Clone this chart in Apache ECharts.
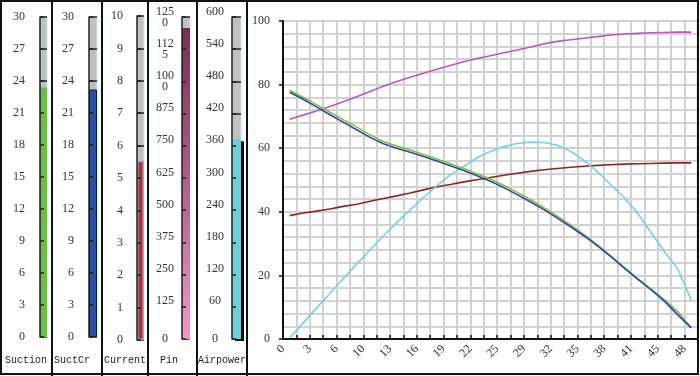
<!DOCTYPE html>
<html>
<head>
<meta charset="utf-8">
<script src="https://cdn.jsdelivr.net/npm/echarts@6/dist/echarts.min.js"></script>
<style>
  html, body { margin: 0; padding: 0; background: #fff; }
  #main { width: 700px; height: 376px; }
</style>
</head>
<body>
<div id="main"></div>
<script>
// gauges on the left
const gaugeTitles = ['Suction', 'SuctCr', 'Current', 'Pin', 'Airpower']
const gaugeValues = [23.4, 23.2, 5.53, 1207, 372]
const gaugeMax = [30, 30, 10, 1250, 600]
const gaugeStep = [3, 3, 1, 125, 60]

// line chart on the right
const xTickLabels = ['0', '3', '6', '10', '13', '16', '19', '22', '25', '29', '32', '35', '38', '41', '45', '48']
const pinkLine = [69.1, 70.4, 71.7, 73.1, 74.6, 76.2, 77.8, 79.5, 81.0, 82.3, 83.6, 84.8, 86.0, 87.2, 88.2, 89.1,
  90.0, 90.9, 91.8, 92.8, 93.6, 94.1, 94.6, 95.1, 95.6, 95.9, 96.1, 96.3, 96.4, 96.5, 96.5]
const redLine = [38.8, 39.6, 40.2, 40.9, 41.7, 42.4, 43.3, 44.2, 45.0, 45.9, 46.9, 47.9, 48.6, 49.4, 50.1, 50.8,
  51.5, 52.1, 52.7, 53.2, 53.6, 54.0, 54.3, 54.6, 54.8, 55.0, 55.1, 55.2, 55.3, 55.4, 55.4]
const cyanLine = [0.3, 5.0, 9.7, 14.3, 19.0, 23.5, 28.0, 32.4, 36.6, 40.6, 44.5, 48.2, 51.6, 54.3, 57.0, 59.0,
  60.5, 61.5, 61.9, 61.8, 60.9, 59.0, 56.1, 52.6, 48.5, 44.5, 39.5, 33.5, 27.5, 22.0, 12.3]
const greenLine = [78.2, 76.0, 73.7, 71.3, 69.0, 66.7, 64.2, 62.1, 60.7, 59.4, 58.0, 56.6, 55.1, 53.6, 52.0, 50.3,
  48.3, 46.1, 43.8, 41.3, 38.6, 35.8, 32.8, 29.6, 26.1, 22.5, 19.0, 15.7, 12.3, 8.6, 3.6]
const blueLine = [77.6, 75.4, 73.0, 70.5, 68.2, 65.8, 63.4, 61.4, 60.0, 58.7, 57.4, 56.0, 54.5, 53.0, 51.3, 49.6,
  47.6, 45.4, 43.1, 40.7, 38.0, 35.3, 32.4, 29.3, 25.9, 22.3, 18.8, 15.5, 11.9, 7.6, 3.5]

let myChart = echarts.init(document.getElementById('main'))

// tube geometry for each gauge
const tubeLeft = [40, 89, 137, 182, 232]
const tubeWidth = [7, 8, 7, 8, 9]
const tubeTop = [17, 17, 16, 17, 17]
const tubeBottom = [337, 337, 340, 339, 339]
const labelMargin = [15, 15, 14, 17, 17]
const titleX = [26, 72, 125, 169, 222]

const fillStyles = [
  {color: '#6cc04a'},
  {color: '#2f4fa3', borderColor: '#0b1a45', borderWidth: 1},
  {color: '#a23a26', borderColor: '#b99ad6', borderWidth: 1.5},
  {color: new echarts.graphic.LinearGradient(0, 0, 0, 1, [
    {offset: 0, color: '#7a2e55'},
    {offset: 0.5, color: '#b65c8e'},
    {offset: 1, color: '#f596c8'}
  ])},
  {color: '#6ccfda', shadowColor: '#000', shadowOffsetX: 3, shadowOffsetY: 2, shadowBlur: 0}
]

const numFont = '"Liberation Serif", "DejaVu Serif", serif'

let grids = []
let xAxes = []
let yAxes = []
let series = []
let graphics = []

gaugeTitles.forEach(function (name, i) {
  grids.push({
    left: tubeLeft[i],
    top: tubeTop[i],
    width: tubeWidth[i],
    height: tubeBottom[i] - tubeTop[i],
    show: true,
    backgroundColor: '#c0c0c0',
    borderColor: '#c6eef5',
    borderWidth: 1
  })
  xAxes.push({type: 'category', gridIndex: i, data: [name], show: false})
  let centered = i >= 3
  // labels + full width split lines (hidden under the fill)
  yAxes.push({
    type: 'value',
    gridIndex: i,
    min: 0,
    max: gaugeMax[i],
    interval: gaugeStep[i],
    axisLine: {show: false},
    axisTick: {show: false},
    splitLine: {show: true, lineStyle: {color: '#222', width: 1.5}},
    axisLabel: {
      margin: labelMargin[i],
      color: '#333',
      fontFamily: numFont,
      fontSize: 12,
      align: centered ? 'center' : 'right',
      verticalAlign: 'middle',
      lineHeight: 11,
      width: centered ? 20 : undefined,
      overflow: centered ? 'breakAll' : 'none',
      formatter: function (v) {
        let s = String(v)
        // single line labels on the right two gauges sit a little above their tick
        if (centered && v !== 0 && s.length < 4) return '{up|' + s + '}'
        return s
      },
      rich: {
        up: {fontFamily: numFont, fontSize: 12, color: '#333', lineHeight: 11, padding: [0, 0, 11, 0]}
      }
    }
  })
  // short ticks drawn over the fill
  yAxes.push({
    type: 'value',
    gridIndex: i,
    min: 0,
    max: gaugeMax[i],
    interval: gaugeStep[i],
    position: 'left',
    z: 10,
    axisLine: {show: true, lineStyle: {color: '#222', width: 1.5}},
    axisTick: {show: true, inside: true, length: 4, lineStyle: {color: '#222', width: 1.5}},
    axisLabel: {show: false},
    splitLine: {show: false}
  })
  series.push({
    name: name,
    type: 'bar',
    xAxisIndex: i,
    yAxisIndex: i * 2,
    data: [gaugeValues[i]],
    barWidth: '100%',
    itemStyle: fillStyles[i],
    silent: true,
    z: 4
  })
  graphics.push({
    type: 'text',
    x: titleX[i],
    y: 360,
    style: {
      text: name,
      font: '10px "Liberation Mono", "DejaVu Sans Mono", monospace',
      fill: '#222',
      textAlign: 'center',
      textVerticalAlign: 'middle'
    }
  })
})

// main line chart
let gi = grids.length
grids.push({
  left: 283,
  top: 21,
  width: 415,
  height: 318,
  show: true,
  borderColor: '#777',
  borderWidth: 2
})
xAxes.push({
  type: 'value',
  gridIndex: gi,
  min: 0,
  max: 31,
  interval: 1,
  axisLine: {show: true, onZero: false, lineStyle: {color: '#111', width: 2}},
  axisTick: {show: true, inside: true, length: 4, lineStyle: {color: '#111', width: 1.5}},
  splitLine: {show: true, lineStyle: {color: '#d2d2d2', width: 2}},
  axisLabel: {
    rotate: 45,
    margin: 8,
    color: '#333',
    fontFamily: numFont,
    fontSize: 12,
    formatter: function (v) {
      return v % 2 === 0 && xTickLabels[v / 2] !== undefined ? xTickLabels[v / 2] : ''
    }
  }
})
yAxes.push({
  type: 'value',
  gridIndex: gi,
  min: 0,
  max: 100,
  interval: 20,
  axisLine: {show: true, lineStyle: {color: '#111', width: 2}},
  axisTick: {show: true, length: 4, lineStyle: {color: '#111', width: 1.5}},
  splitLine: {show: true, lineStyle: {color: '#d2d2d2', width: 2}},
  minorTick: {show: false, splitNumber: 5},
  minorSplitLine: {show: true, lineStyle: {color: '#d2d2d2', width: 2}},
  axisLabel: {margin: 13, color: '#333', fontFamily: numFont, fontSize: 12}
})

let lines = [
  ['pink', pinkLine, '#c157b4'],
  ['red', redLine, '#8e2424'],
  ['cyan', cyanLine, '#72d2e2'],
  ['green', greenLine, '#7cc142'],
  ['blue', blueLine, '#2f47a6']
]
lines.forEach(function (l) {
  series.push({
    name: l[0],
    type: 'line',
    xAxisIndex: gi,
    yAxisIndex: yAxes.length - 1,
    data: l[1].map(function (v, i) { return [i + 0.5, v] }),
    symbol: 'none',
    smooth: false,
    lineStyle: {color: l[2], width: 1.6},
    z: 5
  })
})

// panel frames
graphics.push({
  type: 'rect',
  z: 100,
  shape: {x: 1, y: 1, width: 697, height: 373},
  style: {fill: 'none', stroke: '#111', lineWidth: 2}
})
;[52, 102, 148, 197, 247].forEach(function (x) {
  graphics.push({
    type: 'line',
    z: 100,
    shape: {x1: x, y1: 0, x2: x, y2: 376},
    style: {stroke: '#111', lineWidth: 2}
  })
})

myChart.setOption({
  animation: false,
  grid: grids,
  xAxis: xAxes,
  yAxis: yAxes,
  series: series,
  graphic: graphics
})
</script>
</body>
</html>
